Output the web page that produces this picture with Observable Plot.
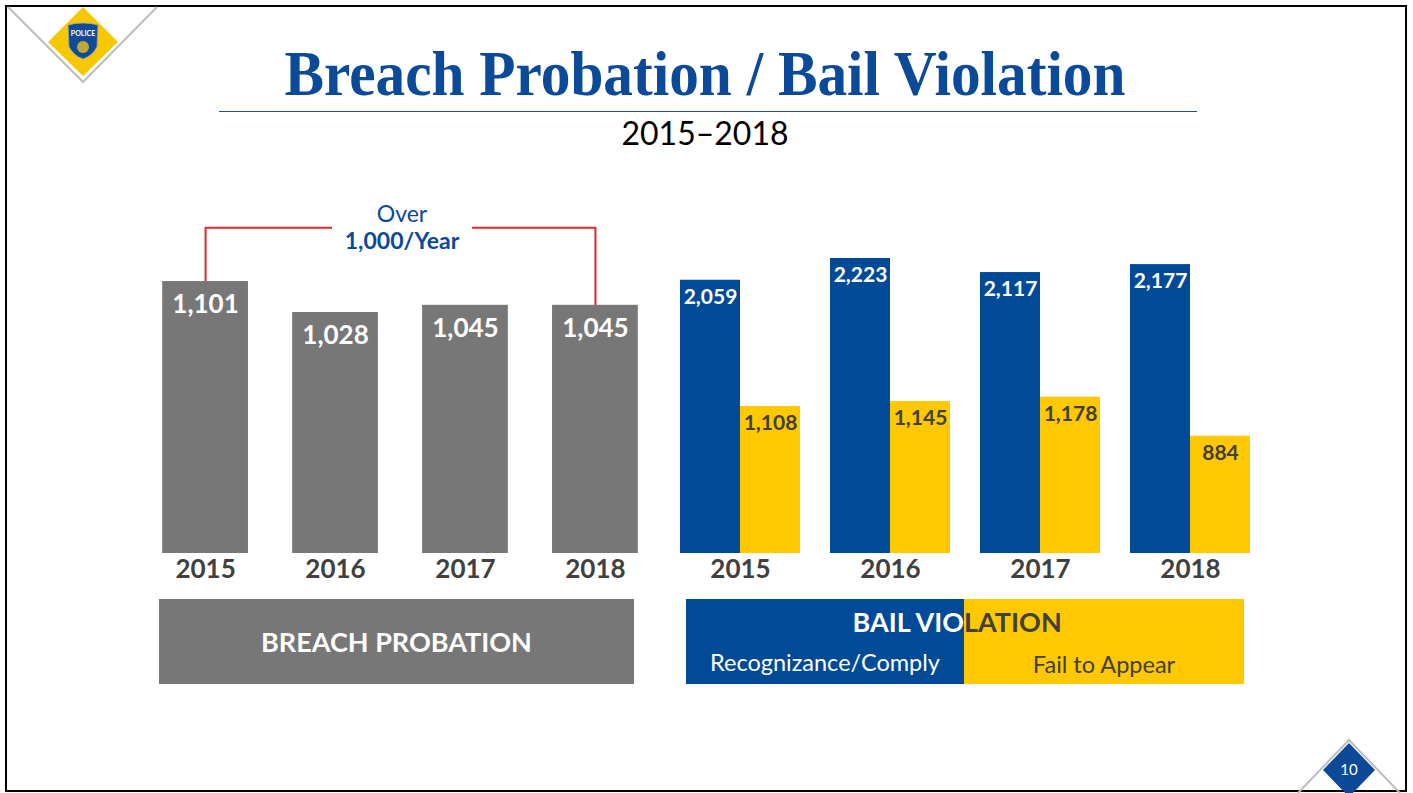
<!DOCTYPE html>
<html><head><meta charset="utf-8">
<script src="https://cdn.jsdelivr.net/npm/d3@7"></script>
<script src="https://cdn.jsdelivr.net/npm/@observablehq/plot@0.6"></script>
<style>
body{margin:0;background:#fff;font-family:Lato,sans-serif;}
#slide{position:relative;width:1413px;height:793px;overflow:hidden;background:#fff;}
.abs{position:absolute;}
#frame{left:5px;top:5px;width:1402px;height:787px;border:2px solid #000;box-sizing:border-box;}
#title{left:0;top:38px;width:1410px;text-align:center;font-family:"Liberation Serif",serif;font-weight:bold;font-size:64px;line-height:72px;color:#0a4a98;white-space:nowrap;}
#title span{display:inline-block;transform-origin:center;}
#rule{left:219px;top:111px;width:978px;height:0;border-top:1.5px solid #1b4f9c;}
#subtitle{left:0;top:113px;width:1410px;text-align:center;font-size:32px;line-height:40px;color:#000;}
#annot{left:332px;top:200px;width:140px;background:#fff;text-align:center;color:#0b4a98;font-size:23px;line-height:27px;}
#annot b{font-size:23px;}
#breachLegend{left:159px;top:599px;width:475px;height:85px;background:#777777;color:#fff;font-weight:bold;font-size:27px;display:flex;align-items:center;justify-content:center;}
#bailLegend{left:686px;top:599px;width:558px;height:85px;}
.half{position:absolute;top:0;height:85px;}
#bailTitle{position:absolute;left:0;top:7px;width:558px;height:32px;font-weight:bold;font-size:27px;line-height:32px;}
#bailTitle .l{position:absolute;right:280px;color:#fff;}
#bailTitle .r{position:absolute;left:278px;color:#404040;}
.sub{position:absolute;top:49px;font-size:23.5px;line-height:28px;text-align:center;}
</style></head><body>
<div id="slide">
  <div id="frame" class="abs"></div>
  <svg class="abs" style="left:0;top:0" width="170" height="90">
    <polyline points="8,7 83,82 157,7" fill="none" stroke="#bdbdbd" stroke-width="2"/>
    <polygon points="48,42 83,7 118,42 83,76" fill="#f7c800"/>
    <path d="M68,25 Q83,21 98,25 L97,47 Q92,56 83,59 Q74,56 69,47 Z" fill="#0f4b97" stroke="#9ab" stroke-width="0.8"/>
    <text x="83" y="36" font-size="7" font-weight="bold" fill="#fff" text-anchor="middle" font-family="Lato">POLICE</text>
    <circle cx="83" cy="47" r="6" fill="#e8c020" opacity="0.8"/>
  </svg>
  <svg class="abs" style="left:1290px;top:735px" width="120" height="60">
    <polyline points="8,58 59,5 110,58" fill="none" stroke="#bdbdbd" stroke-width="2"/>
    <polygon points="33,35 59,8 85,35 59,62" fill="#0c4a98"/>
    <text x="59" y="40" font-size="15" fill="#fff" text-anchor="middle" font-family="Lato">10</text>
  </svg>
  <div id="title" class="abs"><span>Breach Probation / Bail Violation</span></div>
  <div id="rule" class="abs"></div>
  <div id="subtitle" class="abs">2015–2018</div>
  <div id="breachChart" class="abs" style="left:118px;top:200px"></div>
  <div id="bailChart" class="abs" style="left:680px;top:200px"></div>
  <div id="annot" class="abs">Over<br><b>1,000/Year</b></div>
  <div id="breachLegend" class="abs">BREACH PROBATION</div>
  <div id="bailLegend" class="abs">
    <div class="half" style="left:0;width:278px;background:#004a98"></div>
    <div class="half" style="left:278px;width:280px;background:#ffc800"></div>
    <div id="bailTitle"><span class="l">BAIL VIO</span><span class="r">LATION</span></div>
    <div class="sub" style="left:0;width:278px;color:#fff">Recognizance/Comply</div>
    <div class="sub" style="left:278px;width:280px;color:#404040;top:51px">Fail to Appear</div>
  </div>
</div>
<script>
const years = ["2015", "2016", "2017", "2018"];
const breachValues = [1101, 1028, 1045, 1045];
const bailSeries = ["Recognizance/Comply", "Fail to Appear"];
const recognizanceValues = [2059, 2223, 2117, 2177];
const failToAppearValues = [1108, 1145, 1178, 884];
const breachAxisMin = 460;
const breachAxisMax = 1292;
const bailAxisMax = 2660;
const bracketLevel = 1228;

const fmt = d3.format(",");
const breachData = years.map((year, i) => ({year, value: breachValues[i]}));
const bracket = [
  {year: years[0], value: breachValues[0]},
  {year: years[0], value: bracketLevel},
  {year: years[3], value: bracketLevel},
  {year: years[3], value: breachValues[3]}
];
const bailData = years.flatMap((year, i) => [
  {year, series: bailSeries[0], value: recognizanceValues[i]},
  {year, series: bailSeries[1], value: failToAppearValues[i]}
]);

const breachPlot = Plot.plot({
  width: 564, height: 400,
  marginTop: 0, marginBottom: 47, marginLeft: 0, marginRight: 0,
  style: {background: "transparent", fontFamily: "Lato, sans-serif", overflow: "visible"},
  x: {domain: years, padding: 0.34, round: false, axis: null},
  y: {domain: [breachAxisMin, breachAxisMax], axis: null},
  marks: [
    Plot.line(bracket, {x: "year", y: "value", stroke: "#e3262b", strokeWidth: 2}),
    Plot.barY(breachData, {x: "year", y1: breachAxisMin, y2: "value", fill: "#777777"}),
    Plot.text(breachData, {x: "year", y: "value", text: d => fmt(d.value), dy: 23, fill: "#fff", fontSize: 26, fontWeight: "bold"}),
    Plot.text(breachData, {x: "year", text: "year", frameAnchor: "bottom", lineAnchor: "middle", dy: 16, fill: "#404040", fontSize: 26, fontWeight: "bold"})
  ]
});
document.getElementById("breachChart").appendChild(breachPlot);

const bailPlot = Plot.plot({
  width: 570, height: 400,
  marginTop: 0, marginBottom: 47, marginLeft: 0, marginRight: 0,
  style: {background: "transparent", fontFamily: "Lato, sans-serif", overflow: "visible"},
  fx: {domain: years, padding: 0.2, axis: null, label: null},
  x: {domain: bailSeries, padding: 0, axis: null},
  y: {domain: [0, bailAxisMax], axis: null},
  color: {domain: bailSeries, range: ["#004a98", "#ffc800"]},
  marks: [
    Plot.barY(bailData, {fx: "year", x: "series", y: "value", fill: "series"}),
    Plot.text(bailData.filter(d => d.series === bailSeries[0]), {fx: "year", x: "series", y: "value", text: d => fmt(d.value), dy: 17, fill: "#fff", fontSize: 21, fontWeight: "bold"}),
    Plot.text(bailData.filter(d => d.series === bailSeries[1]), {fx: "year", x: "series", y: "value", text: d => fmt(d.value), dy: 17, fill: "#404040", fontSize: 21, fontWeight: "bold"}),
    Plot.text(years, {fx: d => d, text: d => d, frameAnchor: "bottom", lineAnchor: "middle", dy: 16, fill: "#404040", fontSize: 26, fontWeight: "bold"})
  ]
});
document.getElementById("bailChart").appendChild(bailPlot);

// fit title width to the reference span
const ts = document.querySelector("#title span");
const w = ts.getBoundingClientRect().width;
ts.style.transform = `scaleX(${841 / w})`;
</script>
</body></html>
